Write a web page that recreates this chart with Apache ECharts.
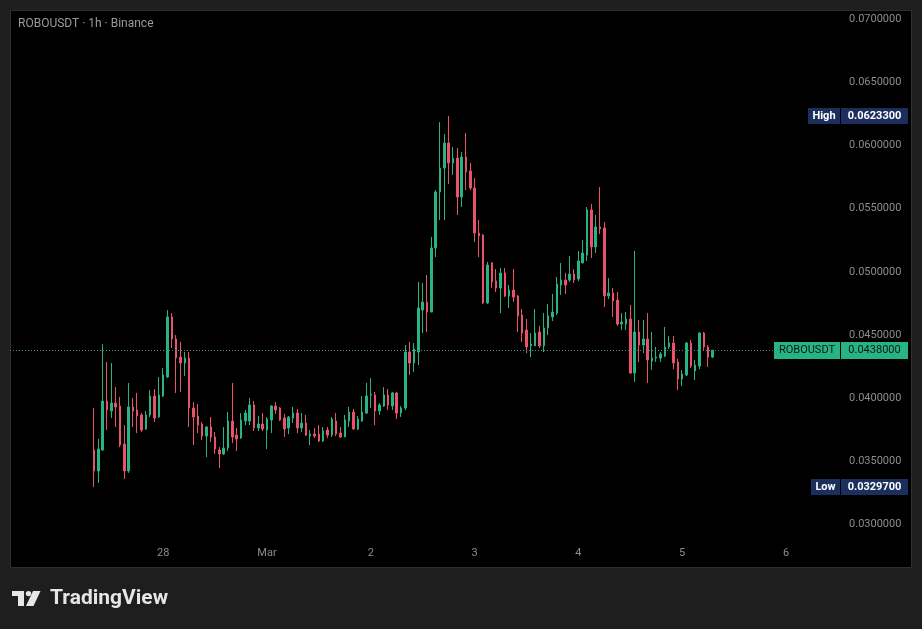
<!DOCTYPE html>
<html>
<head>
<meta charset="utf-8">
<script src="https://cdn.jsdelivr.net/npm/echarts@6/dist/echarts.min.js"></script>
<style>
  html, body { margin: 0; padding: 0; background: #1e1e1e; }
  #main { width: 922px; height: 629px; }
</style>
</head>
<body>
<div id="main"></div>
<script>
// ROBOUSDT 1h candles, Feb 27 08:00 -> Mar 5 07:00
const LEAD = 19;      // empty hourly slots before the first candle
const SLOTS = 192;    // hourly slots shown on the axis

const opens = [
  0.03591, 0.03425, 0.03591, 0.03978, 0.03899, 0.03962, 0.03939, 0.03638, 0.03425, 0.03931,
  0.03907, 0.03868, 0.03757, 0.03868, 0.04018, 0.03852, 0.04018, 0.04168, 0.04643, 0.04469,
  0.04326, 0.04279, 0.04318, 0.03923, 0.03860, 0.03796, 0.03701, 0.03773, 0.03694, 0.03591,
  0.03559, 0.03607, 0.03820, 0.03709, 0.03686, 0.03820, 0.03820, 0.03947, 0.03765, 0.03796,
  0.03749, 0.03828, 0.03939, 0.03923, 0.03844, 0.03765, 0.03844, 0.03883, 0.03765, 0.03804,
  0.03701, 0.03717, 0.03717, 0.03662, 0.03749, 0.03709, 0.03820, 0.03725, 0.03694, 0.03820,
  0.03891, 0.03757, 0.03820, 0.03883, 0.04026, 0.04026, 0.03899, 0.03939, 0.04026, 0.03939,
  0.04042, 0.03883, 0.03923, 0.04366, 0.04279, 0.04366, 0.04698, 0.04761, 0.04682, 0.05189,
  0.05632, 0.05821, 0.06019, 0.05861, 0.05900, 0.05592, 0.05908, 0.05798, 0.05663, 0.05307,
  0.05291, 0.04754, 0.05070, 0.04928, 0.04872, 0.04991, 0.04809, 0.04856, 0.04809, 0.04659,
  0.04540, 0.04414, 0.04414, 0.04524, 0.04414, 0.04556, 0.04643, 0.04674, 0.04896, 0.04935,
  0.04935, 0.04983, 0.04943, 0.05070, 0.05133, 0.05489, 0.05197, 0.05355, 0.05347, 0.04809,
  0.04833, 0.04777, 0.04587, 0.04587, 0.04627, 0.04200, 0.04524, 0.04421, 0.04469, 0.04295,
  0.04318, 0.04318, 0.04334, 0.04406, 0.04437, 0.04287, 0.04152, 0.04184, 0.04437, 0.04216,
  0.04255, 0.04516, 0.04406, 0.04326
];
const closes = [
  0.03425, 0.03599, 0.03978, 0.03907, 0.03962, 0.03931, 0.03630, 0.03425, 0.03931, 0.03899,
  0.03860, 0.03749, 0.03868, 0.04018, 0.03844, 0.04026, 0.04184, 0.04643, 0.04469, 0.04318,
  0.04279, 0.04318, 0.03923, 0.03852, 0.03788, 0.03701, 0.03773, 0.03694, 0.03599, 0.03559,
  0.03607, 0.03820, 0.03694, 0.03678, 0.03828, 0.03883, 0.03947, 0.03765, 0.03796, 0.03757,
  0.03836, 0.03939, 0.03907, 0.03828, 0.03757, 0.03852, 0.03883, 0.03765, 0.03804, 0.03709,
  0.03717, 0.03701, 0.03662, 0.03741, 0.03709, 0.03836, 0.03717, 0.03694, 0.03828, 0.03891,
  0.03757, 0.03836, 0.03891, 0.04018, 0.04034, 0.03899, 0.03947, 0.04026, 0.03947, 0.04042,
  0.03883, 0.03923, 0.04366, 0.04279, 0.04390, 0.04714, 0.04761, 0.04682, 0.05189, 0.05632,
  0.05821, 0.06019, 0.05861, 0.05900, 0.05592, 0.05908, 0.05790, 0.05663, 0.05307, 0.05284,
  0.04754, 0.05054, 0.04920, 0.04872, 0.04991, 0.04809, 0.04856, 0.04801, 0.04651, 0.04516,
  0.04406, 0.04429, 0.04516, 0.04414, 0.04556, 0.04651, 0.04682, 0.04904, 0.04935, 0.04896,
  0.04983, 0.04935, 0.05086, 0.05149, 0.05489, 0.05197, 0.05355, 0.05339, 0.04809, 0.04833,
  0.04769, 0.04587, 0.04603, 0.04627, 0.04200, 0.04524, 0.04421, 0.04469, 0.04303, 0.04318,
  0.04326, 0.04350, 0.04406, 0.04437, 0.04279, 0.04152, 0.04192, 0.04437, 0.04255, 0.04263,
  0.04516, 0.04406, 0.04326, 0.04380
];
const highs = [
  0.03923, 0.03678, 0.04429, 0.04287, 0.04279, 0.04089, 0.04010, 0.03788, 0.04121, 0.04002,
  0.04042, 0.03883, 0.03899, 0.04065, 0.04073, 0.04168, 0.04239, 0.04698, 0.04674, 0.04500,
  0.04445, 0.04366, 0.04366, 0.03970, 0.03955, 0.03812, 0.03780, 0.03852, 0.03733, 0.03614,
  0.03773, 0.03891, 0.04121, 0.03765, 0.03883, 0.03907, 0.04002, 0.03978, 0.03860, 0.03883,
  0.03852, 0.03945, 0.03970, 0.03931, 0.03876, 0.03860, 0.03931, 0.03915, 0.03883, 0.03868,
  0.03749, 0.03765, 0.03788, 0.03773, 0.03773, 0.03852, 0.03883, 0.03773, 0.03868, 0.03931,
  0.03915, 0.03860, 0.04018, 0.04121, 0.04160, 0.04050, 0.03962, 0.04089, 0.04073, 0.04050,
  0.04050, 0.03939, 0.04421, 0.04445, 0.04437, 0.04920, 0.04912, 0.04975, 0.05276, 0.05647,
  0.06185, 0.06090, 0.06233, 0.05987, 0.05980, 0.05948, 0.06098, 0.05861, 0.05742, 0.05410,
  0.05299, 0.05078, 0.05078, 0.05022, 0.05030, 0.05030, 0.04896, 0.05022, 0.04817, 0.04706,
  0.04627, 0.04516, 0.04706, 0.04572, 0.04674, 0.04746, 0.04825, 0.04959, 0.05070, 0.04991,
  0.05125, 0.05022, 0.05165, 0.05252, 0.05513, 0.05537, 0.05450, 0.05671, 0.05394, 0.04951,
  0.04872, 0.04841, 0.04674, 0.04682, 0.04738, 0.05165, 0.04619, 0.04619, 0.04674, 0.04524,
  0.04406, 0.04366, 0.04564, 0.04493, 0.04493, 0.04311, 0.04224, 0.04445, 0.04461, 0.04303,
  0.04524, 0.04524, 0.04421, 0.04382
];
const lows = [
  0.03297, 0.03330, 0.03583, 0.03749, 0.03844, 0.03773, 0.03614, 0.03361, 0.03410, 0.03773,
  0.03725, 0.03733, 0.03749, 0.03852, 0.03812, 0.03844, 0.04010, 0.04160, 0.04398, 0.04042,
  0.04050, 0.04176, 0.03773, 0.03630, 0.03725, 0.03670, 0.03535, 0.03654, 0.03559, 0.03448,
  0.03551, 0.03583, 0.03646, 0.03583, 0.03678, 0.03788, 0.03788, 0.03741, 0.03741, 0.03741,
  0.03599, 0.03725, 0.03876, 0.03820, 0.03694, 0.03717, 0.03804, 0.03725, 0.03733, 0.03701,
  0.03630, 0.03686, 0.03654, 0.03654, 0.03686, 0.03694, 0.03701, 0.03686, 0.03694, 0.03773,
  0.03749, 0.03749, 0.03812, 0.03876, 0.03923, 0.03788, 0.03868, 0.03931, 0.03907, 0.03907,
  0.03836, 0.03852, 0.03907, 0.04184, 0.04208, 0.04263, 0.04516, 0.04524, 0.04682, 0.05117,
  0.05410, 0.05410, 0.05695, 0.05766, 0.05450, 0.05513, 0.05647, 0.05647, 0.05236, 0.05117,
  0.04746, 0.04746, 0.04872, 0.04841, 0.04674, 0.04801, 0.04714, 0.04761, 0.04524, 0.04445,
  0.04358, 0.04326, 0.04414, 0.04398, 0.04366, 0.04500, 0.04611, 0.04659, 0.04817, 0.04825,
  0.04920, 0.04912, 0.04928, 0.05070, 0.05086, 0.05109, 0.05149, 0.05299, 0.04722, 0.04785,
  0.04643, 0.04572, 0.04540, 0.04540, 0.04192, 0.04129, 0.04287, 0.04358, 0.04121, 0.04224,
  0.04287, 0.04287, 0.04326, 0.04390, 0.04231, 0.04065, 0.04097, 0.04176, 0.04239, 0.04144,
  0.04231, 0.04382, 0.04247, 0.04318
];
const highPrice = 0.06233;
const lowPrice = 0.03297;
const lastPrice = 0.0438;
const yTicks = { min: 0.03, max: 0.07, step: 0.005 };

const UP = '#27b383';
const DOWN = '#e8536a';
const NAVY = '#1c2f5c';
const FONT = 'Roboto, "Liberation Sans", sans-serif';

// hourly categories starting Feb 26 13:00
const categories = [];
for (let i = 0; i < SLOTS; i++) {
  const t = 13 + i;
  const d = 26 + Math.floor(t / 24);
  const h = t % 24;
  const mon = d > 28 ? '03' : '02';
  const day = d > 28 ? d - 28 : d;
  categories.push(mon + '-' + String(day).padStart(2, '0') + ' ' + String(h).padStart(2, '0') + ':00');
}

const rows = opens.map((o, i) => [LEAD + i, o, closes[i], lows[i], highs[i]]);

const chart = echarts.init(document.getElementById('main'));

chart.setOption({
  animation: false,
  backgroundColor: '#1e1e1e',
  title: {
    text: 'ROBOUSDT · 1h · Binance',
    left: 13,
    top: 13,
    textStyle: { color: '#9a9a9a', fontSize: 12, fontWeight: 'normal', fontFamily: FONT }
  },
  grid: { left: 9.66, right: 81.94, top: 19, bottom: 104.3 },
  xAxis: {
    type: 'category',
    data: categories,
    boundaryGap: true,
    axisLine: { show: false },
    axisTick: { show: false },
    splitLine: { show: false },
    axisLabel: {
      color: '#8c8c8c',
      fontSize: 11,
      fontFamily: FONT,
      margin: 23,
      interval: function (idx, val) {
        return idx >= LEAD && val.endsWith(' 00:00');
      },
      formatter: function (val) {
        const md = val.split(' ')[0].split('-');
        if (md[0] === '03' && md[1] === '01') return 'Mar';
        return String(+md[1]);
      }
    }
  },
  yAxis: {
    type: 'value',
    position: 'right',
    min: yTicks.min,
    max: yTicks.max,
    interval: yTicks.step,
    scale: true,
    axisLine: { show: false },
    axisTick: { show: false },
    splitLine: { show: false },
    axisLabel: {
      color: '#8c8c8c',
      fontSize: 11,
      fontFamily: FONT,
      margin: 9,
      formatter: v => v.toFixed(7)
    }
  },
  series: [{
    type: 'candlestick',
    data: rows,
    encode: { x: 0, y: [1, 2, 3, 4] },
    barWidth: 2,
    itemStyle: {
      color: UP,
      color0: DOWN,
      borderColor: UP,
      borderColor0: DOWN,
      borderWidth: 1
    }
  }],
  graphic: {
    elements: [
      {
        id: 'panel', type: 'rect', z: -10, silent: true,
        shape: { x: 10.5, y: 10.5, width: 901, height: 557 },
        style: { fill: '#000000', stroke: '#2e2e2e', lineWidth: 1 }
      },
      { id: 'logoBar', type: 'rect', shape: { x: 12, y: 591, width: 12, height: 5 }, style: { fill: '#e6e6e6' } },
      { id: 'logoStem', type: 'rect', shape: { x: 18, y: 591, width: 6, height: 15 }, style: { fill: '#e6e6e6' } },
      { id: 'logoDot', type: 'circle', shape: { cx: 28.5, cy: 593.6, r: 2.7 }, style: { fill: '#e6e6e6' } },
      {
        id: 'logoSlash', type: 'polygon',
        shape: { points: [[33, 591], [40.5, 591], [33.5, 606], [26, 606]] },
        style: { fill: '#e6e6e6' }
      },
      {
        id: 'logoText', type: 'text', left: 50, top: 588,
        style: { text: 'TradingView', fill: '#e6e6e6', font: 'bold 21px ' + FONT }
      }
    ]
  }
});

// dotted last-price line and price badges, placed through the y axis scale
function priceY(value) {
  return chart.convertToPixel({ yAxisIndex: 0 }, value);
}

function badge(id, value, label, fill, textColor, weight, labelLeft, h) {
  const y = priceY(value);
  const top = Math.round(y - h / 2);
  const font = weight + ' 11px ' + FONT;
  return [
    {
      id: id + 'L', type: 'rect', z: 20,
      shape: { x: labelLeft, y: top, width: 840 - labelLeft, height: h },
      style: { fill: fill }
    },
    {
      id: id + 'Lt', type: 'text', z: 21,
      x: (labelLeft + 840) / 2, y: top + h / 2,
      style: { text: label, fill: textColor, font: font, align: 'center', verticalAlign: 'middle' }
    },
    {
      id: id + 'V', type: 'rect', z: 20,
      shape: { x: 841, y: top, width: 67, height: h },
      style: { fill: fill }
    },
    {
      id: id + 'Vt', type: 'text', z: 21,
      x: 874.5, y: top + h / 2,
      style: { text: value.toFixed(7), fill: textColor, font: font, align: 'center', verticalAlign: 'middle' }
    }
  ];
}

const lastY = Math.round(priceY(lastPrice)) + 0.5;

chart.setOption({
  graphic: {
    elements: [
      {
        id: 'lastLine', type: 'line', z: 5, silent: true,
        shape: { x1: 10, y1: lastY, x2: 774, y2: lastY },
        style: { stroke: '#4a8f74', lineWidth: 1, lineDash: [1, 2] }
      }
    ]
      .concat(badge('hi', highPrice, 'High', NAVY, '#ffffff', 'bold', 808, 16))
      .concat(badge('lo', lowPrice, 'Low', NAVY, '#ffffff', 'bold', 811, 16))
      .concat(badge('last', lastPrice, 'ROBOUSDT', UP, '#0d1a14', 'normal', 774, 17))
  }
});
</script>
</body>
</html>
